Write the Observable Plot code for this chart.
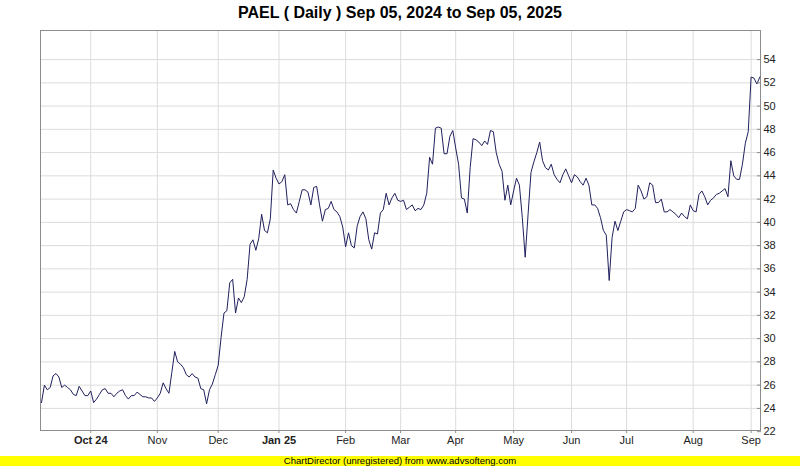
<!DOCTYPE html>
<html><head><meta charset="utf-8">
<script src="https://cdn.jsdelivr.net/npm/d3@7"></script>
<script src="https://cdn.jsdelivr.net/npm/@observablehq/plot@0.6"></script>
<style>
body{margin:0;background:#fff;font-family:"Liberation Sans",Arial,sans-serif;}
#wrap{width:800px;height:466px;position:relative;overflow:hidden;background:#fff;}
#title{height:29px;text-align:center;font-weight:bold;font-size:16px;line-height:25px;color:#000;}
#chart svg{display:block;}
#banner{position:absolute;left:0;top:456px;width:800px;height:10px;background:#ffff00;text-align:center;font-size:9.5px;line-height:10px;color:#000;}
</style></head><body>
<div id="wrap">
<div id="title">PAEL ( Daily ) Sep 05, 2024 to Sep 05, 2025</div>
<div id="chart"></div>
<div id="banner">ChartDirector (unregistered) from www.advsofteng.com</div>
</div>
<script>
// Daily closes, one per trading day (Sep 2024 .. Sep 2025)
const closesSep24 = [24.5, 26.0, 25.6, 25.8, 26.8, 27.0, 26.7, 25.8, 26.0, 25.8, 25.6, 25.2, 25.1, 25.9, 25.5, 25.1, 25.1, 25.5];
const closesOct24 = [24.5, 24.8, 25.2, 25.6, 25.7, 25.3, 25.3, 25.0, 25.3, 25.5, 25.6, 25.1, 24.8, 25.1, 25.1, 25.4, 25.2, 25.0, 25.0, 24.9, 24.9, 24.6, 24.9];
const closesNov24 = [25.3, 26.2, 25.7, 25.3, 27.1, 28.9, 28.0, 27.8, 27.5, 26.9, 26.7, 27.0, 26.7, 26.6, 25.7, 25.6, 24.4, 25.6, 26.1, 26.9];
const closesDec24 = [27.7, 30.1, 32.2, 32.4, 34.8, 35.1, 32.2, 33.5, 33.1, 33.6, 35.1, 38.1, 38.5, 37.6, 38.6, 40.7, 39.3, 39.1, 40.3, 44.5, 43.8];
const closesJan25 = [43.3, 43.5, 44.1, 41.5, 41.6, 41.1, 40.8, 41.8, 42.8, 42.8, 42.6, 41.5, 43.0, 43.1, 41.5, 40.1, 41.1, 41.2, 41.8, 41.1, 40.9, 40.5, 39.6];
const closesFeb25 = [37.9, 39.1, 38.0, 37.8, 39.7, 40.5, 40.9, 40.3, 38.5, 37.7, 39.1, 39.0, 40.8, 41.1, 42.5, 41.5, 42.1, 42.5, 41.9];
const closesMar25 = [41.8, 41.9, 41.1, 41.3, 41.5, 41.0, 41.2, 41.1, 41.5, 42.5, 45.6, 45.0, 48.1, 48.2, 48.1, 45.9, 45.9, 47.4, 47.9];
const closesApr25 = [46.4, 45.0, 42.1, 42.0, 40.8, 44.7, 47.2, 47.1, 46.9, 46.6, 47.0, 46.7, 47.9, 47.8, 46.0, 45.0, 44.4, 41.9, 43.2, 41.5];
const closesMay25 = [42.7, 43.8, 43.2, 40.4, 37.0, 40.7, 44.3, 45.2, 46.0, 46.9, 45.3, 44.7, 44.5, 45.0, 44.1, 43.7, 43.4, 44.1, 44.6, 44.0];
const closesJun25 = [43.4, 44.1, 43.9, 43.5, 43.2, 43.8, 43.2, 41.5, 41.5, 41.2, 40.4, 39.3, 38.9, 35.0, 38.7, 40.1, 39.3, 40.1, 40.9];
const closesJul25 = [41.1, 41.0, 40.9, 41.2, 43.2, 42.7, 42.0, 42.2, 43.4, 43.2, 41.7, 41.7, 42.0, 40.9, 40.9, 41.1, 40.9, 40.7, 40.4, 40.8, 40.5, 40.3, 41.5];
const closesAug25 = [41.0, 40.9, 42.4, 42.7, 42.2, 41.5, 41.9, 42.1, 42.4, 42.5, 42.7, 42.9, 42.2, 45.3, 44.0, 43.7, 43.7, 45.0, 46.8, 47.8];
const closesSep25 = [52.5, 52.4, 51.9, 52.5];

// x-axis ticks (trading-day index) and labels
const monthTickIdx = [17, 40, 61, 82, 105, 124, 143, 163, 183, 202, 225, 245];
const monthTickLabels = ["Oct 24", "Nov", "Dec", "Jan 25", "Feb", "Mar", "Apr", "May", "Jun", "Jul", "Aug", "Sep"];
const boldLabels = ["Oct 24", "Jan 25"];
const yTicks = [22, 24, 26, 28, 30, 32, 34, 36, 38, 40, 42, 44, 46, 48, 50, 52, 54];

const closes = [].concat(closesSep24, closesOct24, closesNov24, closesDec24, closesJan25, closesFeb25,
  closesMar25, closesApr25, closesMay25, closesJun25, closesJul25, closesAug25, closesSep25);
const data = closes.map((v, i) => ({i, v}));
const n = closes.length;

const fmt = d => monthTickLabels[monthTickIdx.indexOf(d)];
const boldIdx = monthTickIdx.filter((d, k) => boldLabels.includes(monthTickLabels[k]));
const normIdx = monthTickIdx.filter(d => !boldIdx.includes(d));

const chart = Plot.plot({
  width: 800, height: 427,
  marginLeft: 40, marginRight: 40, marginTop: 1, marginBottom: 26,
  style: {fontFamily: "'Liberation Sans', Arial, sans-serif", fontSize: "11px", color: "#222", background: "#fff"},
  x: {type: "linear", domain: [-0.345, (n - 1) + 0.24], label: null},
  y: {domain: [22.1, 56.5], label: null},
  marks: [
    Plot.gridX(monthTickIdx, {stroke: "#dcdcdc", strokeOpacity: 1}),
    Plot.gridY(yTicks.filter(d => d > 22), {stroke: "#dcdcdc", strokeOpacity: 1}),
    Plot.frame({stroke: "#8c8c8c"}),
    Plot.line(data, {x: "i", y: "v", stroke: "#20205e", strokeWidth: 1}),
    Plot.axisX(normIdx, {tickFormat: fmt, tickSize: 3, tickPadding: 3, stroke: "#8c8c8c", fill: "#222", label: null}),
    Plot.axisX(boldIdx, {tickFormat: fmt, tickSize: 3, tickPadding: 3, stroke: "#8c8c8c", fill: "#222", fontWeight: "bold", label: null}),
    Plot.axisY(yTicks, {anchor: "right", tickSize: -4, tickPadding: 7, stroke: "#8c8c8c", fill: "#222", label: null})
  ]
});
document.getElementById("chart").appendChild(chart);
</script>
</body></html>
